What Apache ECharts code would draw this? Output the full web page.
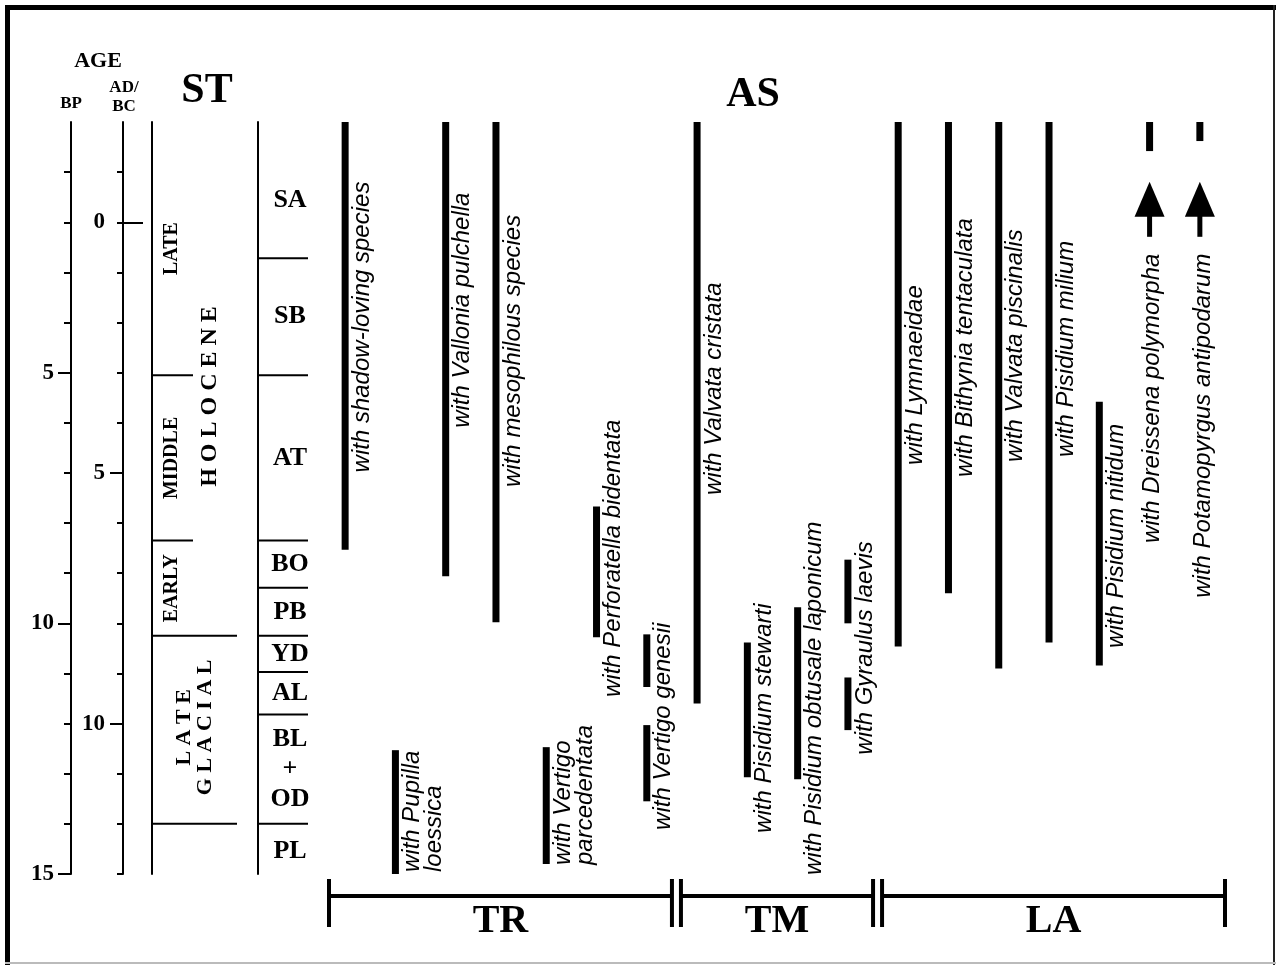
<!DOCTYPE html>
<html>
<head>
<meta charset="utf-8">
<script src="https://cdn.jsdelivr.net/npm/echarts@6/dist/echarts.min.js"></script>
<style>
html,body{margin:0;padding:0;background:#fff;}
#chart{width:1276px;height:965px;}
</style>
</head>
<body>
<div id="chart"></div>
<script>
// ---------------- DATA ----------------
// Taxa (assemblage columns, left to right)
var species = [
  'with shadow-loving species',
  'with Pupilla\nloessica',
  'with Vallonia pulchella',
  'with mesophilous species',
  'with Vertigo\nparcedentata',
  'with Perforatella bidentata',
  'with Vertigo genesii',
  'with Valvata cristata',
  'with Pisidium stewarti',
  'with Pisidium obtusale laponicum',
  'with Gyraulus laevis',
  'with Lymnaeidae',
  'with Bithynia tentaculata',
  'with Valvata piscinalis',
  'with Pisidium milium',
  'with Pisidium nitidum',
  'with Dreissena polymorpha',
  'with Potamopyrgus antipodarum'
];
// Occurrence ranges: [taxon index, from (ka BP), to (ka BP)]
var ranges = [
  [0, 0, 8.53],
  [1, 12.53, 15.0],
  [2, 0, 9.06],
  [3, 0, 9.98],
  [4, 12.47, 14.8],
  [5, 7.67, 10.28],
  [6, 10.22, 11.27],
  [6, 12.03, 13.55],
  [7, 0, 11.6],
  [8, 10.38, 13.07],
  [9, 9.68, 13.11],
  [10, 8.73, 10.0],
  [10, 11.08, 12.13],
  [11, 0, 10.46],
  [12, 0, 9.4],
  [13, 0, 10.9],
  [14, 0, 10.38],
  [15, 5.58, 10.84],
  [16, 0, 0.58],
  [17, 0, 0.38]
];
// Arrows (recent appearance): [taxon index, tip (ka BP), tail (ka BP)]
var arrows = [
  [16, 1.19, 2.29],
  [17, 1.19, 2.29]
];
// Age (ka BP) at which each taxon's label begins
var labelStart = [6.99, 14.96, 6.1, 7.28, 14.82, 11.47, 14.12, 7.44, 14.18, 15.02,
                  12.62, 6.84, 7.08, 6.78, 6.68, 10.49, 8.4, 9.49];
// Ecological groups
var groupNames = ['TR', 'TM', 'LA'];
var groupFirst = [0, 7, 11];
var groupLast = [6, 10, 17];
// Chronozones
var chronozones = ['SA', 'SB', 'AT', 'BO', 'PB', 'YD', 'AL', 'BL\n+\nOD', 'PL'];
var chronoBounds = [0, 2.72, 5.05, 8.35, 9.29, 10.25, 10.97, 11.82, 14.0, 15];
// Sub-stages of Holocene
var substages = ['LATE', 'MIDDLE', 'EARLY'];
var substageBounds = [0, 5.05, 8.35, 10.25];
// Epochs
var epochs = ['H O L O C E N E', 'L A T E\nG L A C I A L'];
var epochBounds = [0, 10.25, 14.0];
// Age axis ticks
var bpMajor = [5, 10, 15];
var bpMinor = [1, 2, 3, 4, 6, 7, 8, 9, 11, 12, 13, 14];
var adbcLabels = [0, 5, 10];
var adbcMajor = [5, 10];
var adbcMinor = [-1, 0, 1, 2, 3, 4, 6, 7, 8, 9, 11, 12, 13];
var adbcZero = [0];

// ---------------- LAYOUT ----------------
var SERIF = '"Liberation Serif","Times New Roman",serif';
var SANS = '"Liberation Sans",Arial,sans-serif';
var BAR_W = 7;

var chart = echarts.init(document.getElementById('chart'));

var rangeData = ranges.map(function (r) { return [r[0], r[1], r[2]]; });
var arrowData = arrows.map(function (a) { return [a[0], a[1], a[2]]; });
var arrowSet = {};
arrows.forEach(function (a) { arrowSet[a[0]] = true; });
var labelData = species.map(function (s, i) { return [i, labelStart[i]]; });
var groupData = groupNames.map(function (g, i) { return [groupFirst[i], groupLast[i], 15]; });

// strat column lines (x in column units 0..156)
var stratLines = [];
substageBounds.slice(1, -1).forEach(function (b) { stratLines.push([0, 41, b]); });
epochBounds.slice(1).forEach(function (b) { stratLines.push([0, 85, b]); });
chronoBounds.slice(1, -1).forEach(function (b) { stratLines.push([106, 156, b]); });

var stratTexts = [];
var chronoShift = [0.2, 0, 0, 0, 0, 0, 0, 0, 0.05];
chronozones.forEach(function (n, i) {
  stratTexts.push([138, (chronoBounds[i] + chronoBounds[i + 1]) / 2 + chronoShift[i], n, 0, 26, 30]);
});
substages.forEach(function (n, i) {
  stratTexts.push([20, (substageBounds[i] + substageBounds[i + 1]) / 2, n, 1, 20, 20]);
});
var epochShift = [0.35, -0.05];
var epochX = [58, 43];
var epochSize = [24, 22];
epochs.forEach(function (n, i) {
  stratTexts.push([epochX[i], (epochBounds[i] + epochBounds[i + 1]) / 2 + epochShift[i], n, 1, epochSize[i], 21]);
});

function axisBase(extra) {
  var o = {
    type: 'value', gridIndex: 0, position: 'left', inverse: true,
    min: 0, max: 15,
    splitLine: { show: false },
    axisLine: { show: false, lineStyle: { color: '#000', width: 2 } },
    axisTick: { show: false, lineStyle: { color: '#000', width: 2 } },
    axisLabel: { show: false }
  };
  for (var k in extra) o[k] = extra[k];
  return o;
}

var option = {
  animation: false,
  backgroundColor: '#fff',
  grid: [
    { left: 320, right: 51, top: 122, bottom: 91 },
    { left: 152, width: 156, top: 122, bottom: 91 }
  ],
  xAxis: [
    { type: 'category', gridIndex: 0, data: species, show: false, boundaryGap: true },
    { type: 'value', gridIndex: 1, min: 0, max: 156, show: false }
  ],
  yAxis: [
    axisBase({}),  // 0: data axis (hidden)
    // 1: BP major
    axisBase({
      offset: 249,
      axisLine: { show: true, lineStyle: { color: '#000', width: 2 } },
      axisTick: { show: true, customValues: bpMajor, length: 13, lineStyle: { color: '#000', width: 2 } },
      axisLabel: { show: true, customValues: bpMajor, margin: 17, fontFamily: SERIF, fontWeight: 'bold', fontSize: 23, color: '#000' }
    }),
    // 2: BP minor
    axisBase({
      offset: 249,
      axisTick: { show: true, customValues: bpMinor, length: 7, lineStyle: { color: '#000', width: 2 } }
    }),
    // 3: AD/BC major
    axisBase({
      offset: 197, min: -2, max: 13,
      axisLine: { show: true, lineStyle: { color: '#000', width: 2 } },
      axisTick: { show: true, customValues: adbcMajor, length: 13, lineStyle: { color: '#000', width: 2 } },
      axisLabel: { show: true, customValues: adbcLabels, margin: 18, fontFamily: SERIF, fontWeight: 'bold', fontSize: 23, color: '#000' }
    }),
    // 4: AD/BC minor
    axisBase({
      offset: 197, min: -2, max: 13,
      axisTick: { show: true, customValues: adbcMinor, length: 6, lineStyle: { color: '#000', width: 2 } }
    }),
    // 5: AD/BC zero marker (inside)
    axisBase({
      offset: 197, min: -2, max: 13,
      axisTick: { show: true, inside: true, customValues: adbcZero, length: 20, lineStyle: { color: '#000', width: 2 } }
    }),
    // 6: strat grid axis (left line of ST column)
    {
      type: 'value', gridIndex: 1, position: 'left', inverse: true, min: 0, max: 15,
      splitLine: { show: false }, axisTick: { show: false }, axisLabel: { show: false },
      axisLine: { show: true, lineStyle: { color: '#000', width: 2 } }
    },
    // 7: chronozone column line
    {
      type: 'value', gridIndex: 1, position: 'left', offset: -106, inverse: true, min: 0, max: 15,
      splitLine: { show: false }, axisTick: { show: false }, axisLabel: { show: false },
      axisLine: { show: true, lineStyle: { color: '#000', width: 2 } }
    }
  ],
  series: [
    // occurrence bars
    {
      type: 'custom', xAxisIndex: 0, yAxisIndex: 0, data: rangeData,
      encode: { x: 0, y: [1, 2] },
      renderItem: function (p, api) {
        var c = api.value(0);
        var a = api.coord([c, api.value(1)]);
        var b = api.coord([c, api.value(2)]);
        return { type: 'rect', shape: { x: a[0] - BAR_W / 2, y: a[1], width: BAR_W, height: b[1] - a[1] }, style: { fill: '#000' } };
      }
    },
    // arrows
    {
      type: 'custom', xAxisIndex: 0, yAxisIndex: 0, data: arrowData,
      encode: { x: 0, y: [1, 2] },
      renderItem: function (p, api) {
        var c = api.value(0);
        var tip = api.coord([c, api.value(1)]);
        var tail = api.coord([c, api.value(2)]);
        var headLen = 35, headHalf = 15;
        return {
          type: 'group', children: [
            { type: 'polygon', shape: { points: [[tip[0], tip[1]], [tip[0] - headHalf, tip[1] + headLen], [tip[0] + headHalf, tip[1] + headLen]] }, style: { fill: '#000' } },
            { type: 'rect', shape: { x: tip[0] - 2.5, y: tip[1] + headLen - 2, width: 5, height: tail[1] - tip[1] - headLen + 2 }, style: { fill: '#000' } }
          ]
        };
      }
    },
    // taxon labels
    {
      type: 'custom', xAxisIndex: 0, yAxisIndex: 0, data: labelData,
      encode: { x: 0, y: 1 },
      renderItem: function (p, api) {
        var i = api.value(0);
        var pt = api.coord([i, api.value(1)]);
        var txt = species[i];
        var nLines = txt.split('\n').length;
        var dx = arrowSet[i] ? 3 : 17 + (nLines - 1) * 11;
        return {
          type: 'text', x: pt[0] + dx, y: pt[1], rotation: Math.PI / 2,
          style: { text: txt, fill: '#000', fontFamily: SANS, fontStyle: 'italic', fontSize: 24, lineHeight: 22, align: 'left', verticalAlign: 'middle' }
        };
      }
    },
    // group brackets
    {
      type: 'custom', xAxisIndex: 0, yAxisIndex: 0, data: groupData,
      encode: { x: [0, 1], y: 2 },
      renderItem: function (p, api) {
        var i = p.dataIndex;
        var half = api.size([1, 0])[0] / 2;
        var a = api.coord([api.value(0), api.value(2)]);
        var b = api.coord([api.value(1), api.value(2)]);
        var x0 = a[0] - half + 9, x1 = b[0] + half;
        var y = a[1] + 22;
        return {
          type: 'group', children: [
            { type: 'rect', shape: { x: x0, y: y - 2, width: x1 - x0, height: 4 }, style: { fill: '#000' } },
            { type: 'rect', shape: { x: x0 - 2, y: y - 17, width: 4, height: 48 }, style: { fill: '#000' } },
            { type: 'rect', shape: { x: x1 - 2, y: y - 17, width: 4, height: 48 }, style: { fill: '#000' } },
            { type: 'text', x: (x0 + x1) / 2, y: y + 26, style: { text: groupNames[i], fill: '#000', fontFamily: SERIF, fontWeight: 'bold', fontSize: 40, align: 'center', verticalAlign: 'middle' } }
          ]
        };
      }
    },
    // stratigraphic boundary lines
    {
      type: 'custom', xAxisIndex: 1, yAxisIndex: 6, data: stratLines,
      encode: { x: [0, 1], y: 2 },
      renderItem: function (p, api) {
        var a = api.coord([api.value(0), api.value(2)]);
        var b = api.coord([api.value(1), api.value(2)]);
        return { type: 'line', shape: { x1: a[0], y1: a[1], x2: b[0], y2: b[1] }, style: { stroke: '#000', lineWidth: 2 } };
      }
    },
    // stratigraphic texts
    {
      type: 'custom', xAxisIndex: 1, yAxisIndex: 6, data: stratTexts,
      encode: { x: 0, y: 1 },
      renderItem: function (p, api) {
        var d = stratTexts[p.dataIndex];
        var pt = api.coord([d[0], d[1]]);
        return {
          type: 'text', x: pt[0], y: pt[1], rotation: d[3] ? Math.PI / 2 : 0,
          style: { text: d[2], fill: '#000', fontFamily: SERIF, fontWeight: 'bold', fontSize: d[4], lineHeight: d[5], align: 'center', verticalAlign: 'middle' }
        };
      }
    }
  ],
  graphic: [
    { type: 'rect', shape: { x: 5, y: 5, width: 1271, height: 5 }, style: { fill: '#000' } },
    { type: 'rect', shape: { x: 5, y: 5, width: 5, height: 960 }, style: { fill: '#000' } },
    { type: 'rect', shape: { x: 1273, y: 5, width: 2, height: 960 }, style: { fill: '#222' } },
    { type: 'rect', shape: { x: 5, y: 962, width: 1271, height: 2 }, style: { fill: '#bbb' } },
    { type: 'text', x: 98, y: 61, style: { text: 'AGE', fill: '#000', font: 'bold 22px ' + SERIF, align: 'center', verticalAlign: 'middle' } },
    { type: 'text', x: 71, y: 104, style: { text: 'BP', fill: '#000', font: 'bold 17px ' + SERIF, align: 'center', verticalAlign: 'middle' } },
    { type: 'text', x: 124, y: 97, style: { text: 'AD/\nBC', fill: '#000', font: 'bold 17px ' + SERIF, lineHeight: 19, align: 'center', verticalAlign: 'middle' } },
    { type: 'text', x: 207, y: 91, style: { text: 'ST', fill: '#000', font: 'bold 42px ' + SERIF, align: 'center', verticalAlign: 'middle' } },
    { type: 'text', x: 753, y: 95, style: { text: 'AS', fill: '#000', font: 'bold 42px ' + SERIF, align: 'center', verticalAlign: 'middle' } }
  ]
};
chart.setOption(option);
</script>
</body>
</html>
